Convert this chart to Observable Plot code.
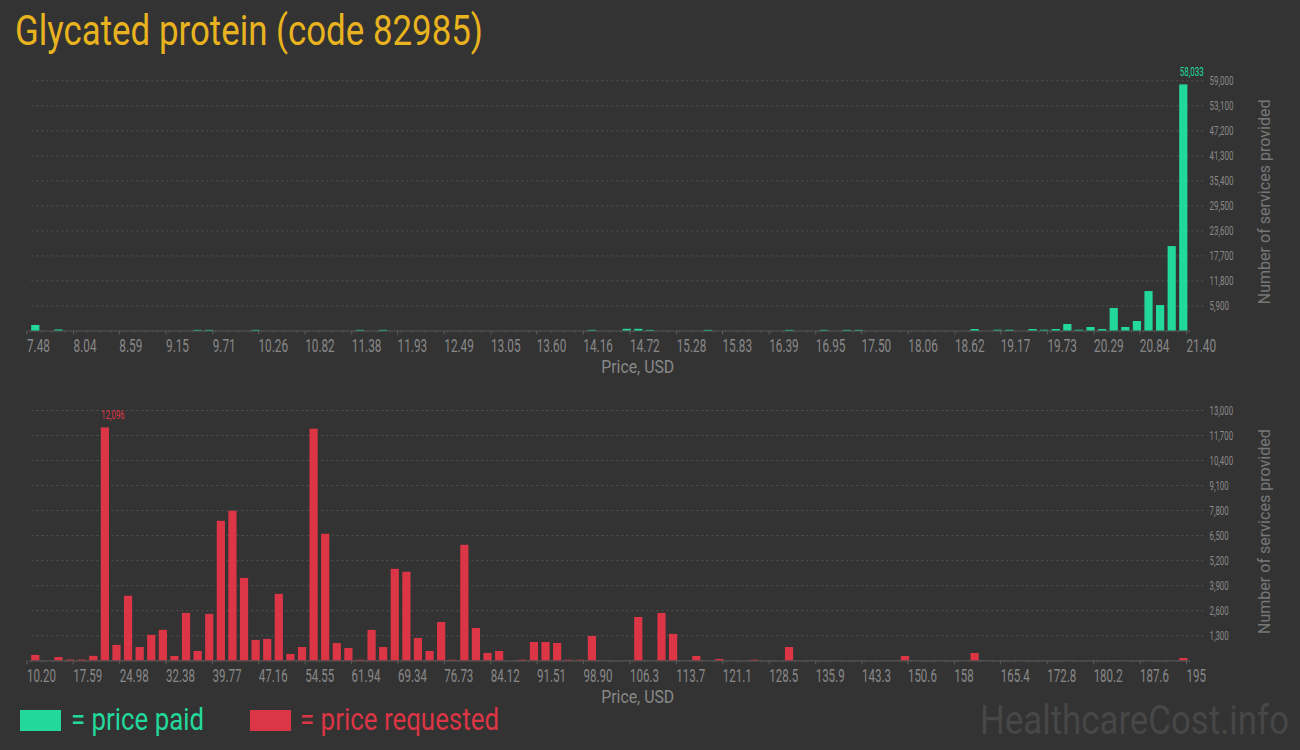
<!DOCTYPE html>
<html><head><meta charset="utf-8">
<script src="https://cdn.jsdelivr.net/npm/d3@7"></script>
<script src="https://cdn.jsdelivr.net/npm/@observablehq/plot@0.6"></script>
<style>
body{margin:0;background:#333333;}
#root{position:relative;width:1300px;height:750px;background:#333333;overflow:hidden;font-family:Roboto,sans-serif;}
.abs{position:absolute;white-space:nowrap;line-height:1;transform-origin:0 0;}
.plot{position:absolute;left:0;}
</style></head><body><div id="root"></div>
<script>
// ---------- data ----------
const titleText = "Glycated protein (code 82985)";
const paidLabel = "= price paid";
const requestedLabel = "= price requested";
const xTitle = "Price, USD";
const yTitle = "Number of services provided";
const watermark = "HealthcareCost.info";

const paidRange = [7.48, 21.40];
const paidXTickLabels = ["7.48","8.04","8.59","9.15","9.71","10.26","10.82","11.38","11.93","12.49","13.05","13.60","14.16","14.72","15.28","15.83","16.39","16.95","17.50","18.06","18.62","19.17","19.73","20.29","20.84","21.40"];
const paidYTicks = [5900,11800,17700,23600,29500,35400,41300,47200,53100,59000];
const paidCounts = [
  1300,0,250,0,0,0,0,0,0,0,
  0,0,0,0,150,150,0,0,0,150,
  0,0,0,0,0,0,0,0,150,0,
  150,0,0,0,0,0,0,0,0,0,
  0,0,0,0,0,0,0,0,150,0,
  0,400,400,150,0,0,0,0,150,0,
  0,0,0,0,0,150,0,0,150,0,
  150,150,0,0,0,0,0,0,0,0,
  0,350,0,180,180,0,350,180,350,1530,
  180,830,350,5300,830,2240,9300,6000,19900,58033
];

const reqRange = [10.20, 195];
const reqXTickLabels = ["10.20","17.59","24.98","32.38","39.77","47.16","54.55","61.94","69.34","76.73","84.12","91.51","98.90","106.3","113.7","121.1","128.5","135.9","143.3","150.6","158","165.4","172.8","180.2","187.6","195"];
const reqYTicks = [1300,2600,3900,5200,6500,7800,9100,10400,11700,13000];
const reqCounts = [
  280,0,170,40,40,230,12096,800,3350,690,
  1320,1580,225,2460,485,2410,7245,7765,4280,1060,
  1110,3450,330,690,12030,6570,900,640,30,1580,
  690,4750,4600,1160,485,1990,30,6000,1680,380,
  485,0,30,950,950,900,30,30,1265,0,
  0,0,2250,0,2460,1370,0,225,0,70,
  0,0,30,0,0,690,0,0,0,0,
  0,0,0,0,0,225,0,0,0,0,
  0,380,0,0,0,0,0,0,0,0,
  0,0,0,0,0,0,0,0,0,120
];

const GREEN = "#22d99b";
const RED = "#dc3545";
const GOLD = "#e8b31e";

// ---------- build ----------
const root = document.getElementById("root");

function binsOf(counts, range) {
  const step = (range[1] - range[0]) / counts.length;
  return counts.map((v, i) => ({x1: range[0] + i * step, x2: range[0] + (i + 1) * step, v}));
}

// set size and horizontally condense svg text (no condensed font available offline):
// the scale is chosen so that the first node gets the given width
function condenseTo(nodes, size, sampleWidth) {
  nodes = Array.from(nodes);
  if (!nodes.length) return;
  nodes.forEach(t => { t.style.fontSize = size + "px"; });
  const w = nodes[0].getBBox().width;
  if (!(w > 0)) return;
  const sx = sampleWidth / w;
  nodes.forEach(t => {
    const x0 = parseFloat(t.getAttribute("x")) || 0;
    const tr = t.getAttribute("transform") || "";
    t.setAttribute("transform", `${tr} translate(${x0},0) scale(${sx},1) translate(${-x0},0)`);
  });
}

function histogram({counts, range, xLabels, yTicks, color, top, height, marginTop, marginBottom, xLabelW, yLabelW, maxLabelW}) {
  const bins = binsOf(counts, range);
  const edges = bins.map(d => d.x1).concat([range[1]]);
  const labelMap = new Map(xLabels.map(s => [+s, s]));
  const maxBin = d3.greatest(bins, d => d.v);
  const fmt = d3.format(",");
  const chart = Plot.plot({
    width: 1300, height,
    marginLeft: 29.4, marginRight: 111, marginTop, marginBottom,
    style: {background: "transparent", color: "#888", fontFamily: "Roboto", overflow: "visible"},
    x: {domain: range},
    y: {domain: [0, yTicks[yTicks.length - 1]]},
    marks: [
      Plot.gridY(yTicks, {stroke: "#555", strokeOpacity: 1, strokeDasharray: "2,3", insetLeft: 2, insetRight: -16}),
      Plot.ruleY([0], {stroke: "#565656", strokeWidth: 1.2}),
      Plot.rectY(bins.filter(d => d.v > 0), {x1: "x1", x2: "x2", y: "v", fill: color, insetLeft: 1.8, insetRight: 1.6}),
      Plot.axisX(edges, {tickSize: 2, tickFormat: () => "", stroke: "#555", strokeOpacity: 1}),
      Plot.axisX(xLabels.map(Number), {tickSize: 4, tickPadding: 4, tickFormat: d => labelMap.get(d),
        textAnchor: "start", dx: -3, fontSize: 17.9, fill: "#888", stroke: "#5e5e5e", strokeOpacity: 1}),
      Plot.axisY(yTicks, {anchor: "right", tickSize: 0, tickPadding: 20, tickFormat: fmt, fontSize: 12.7, fill: "#8a8a8a", label: null}),
      Plot.text([maxBin], {x: "x1", y: "v", text: d => fmt(d.v), textAnchor: "start", lineAnchor: "bottom",
        dx: 1.8, dy: -9, fill: color, fontSize: 12.3}),
      Plot.text([xTitle], {frameAnchor: "bottom", lineAnchor: "top", textAnchor: "middle", dx: 28, dy: 29.5,
        fontSize: 18.3, fill: "#888"}),
      Plot.text([yTitle], {frameAnchor: "right", rotate: -90, dx: 75, dy: -4, textAnchor: "middle", lineAnchor: "middle",
        fontSize: 16, fill: "#777"})
    ]
  });
  chart.classList.add("plot");
  chart.style.top = top + "px";
  root.appendChild(chart);
  const texts = Array.from(chart.querySelectorAll("text"));
  const xSet = new Set(xLabels);
  const ySet = new Set(yTicks.map(fmt));
  condenseTo(texts.filter(t => xSet.has(t.textContent)), 17.9, xLabelW);
  condenseTo(texts.filter(t => ySet.has(t.textContent)).sort((a, b) => b.textContent.length - a.textContent.length), 12.7, yLabelW);
  condenseTo(texts.filter(t => t.textContent === fmt(maxBin.v)), 12.3, maxLabelW);
  condenseTo(texts.filter(t => t.textContent === xTitle), 18.3, 73);
  condenseTo(texts.filter(t => t.textContent === yTitle), 16, 205);
}

histogram({counts: paidCounts, range: paidRange, xLabels: paidXTickLabels, yTicks: paidYTicks,
  color: GREEN, top: 60, height: 325, marginTop: 20.3, marginBottom: 54.5, xLabelW: 23, yLabelW: 24, maxLabelW: 24});
histogram({counts: reqCounts, range: reqRange, xLabels: reqXTickLabels, yTicks: reqYTicks,
  color: RED, top: 395, height: 320, marginTop: 15, marginBottom: 54.7, xLabelW: 29, yLabelW: 23.6, maxLabelW: 23.5});

function addText(txt, {left, top, size, color, width}) {
  const el = document.createElement("div");
  el.className = "abs";
  el.textContent = txt;
  el.style.left = left + "px";
  el.style.top = top + "px";
  el.style.fontSize = size + "px";
  el.style.color = color;
  root.appendChild(el);
  const w = el.getBoundingClientRect().width;
  if (width && w > 0) el.style.transform = `scaleX(${width / w})`;
  return el;
}
function addSwatch(left, top, w, h, color) {
  const el = document.createElement("div");
  el.className = "abs";
  Object.assign(el.style, {left: left + "px", top: top + "px", width: w + "px", height: h + "px", background: color});
  root.appendChild(el);
}

addText(titleText, {left: 15, top: 9, size: 43, color: GOLD, width: 468});
addSwatch(20, 710, 41, 21, GREEN);
addText(paidLabel, {left: 71, top: 704, size: 31, color: GREEN, width: 133});
addSwatch(250, 710, 41, 21, RED);
addText(requestedLabel, {left: 300, top: 704, size: 31, color: RED, width: 199});
addText(watermark, {left: 980, top: 700, size: 41, color: "#474747", width: 309});
</script></body></html>
